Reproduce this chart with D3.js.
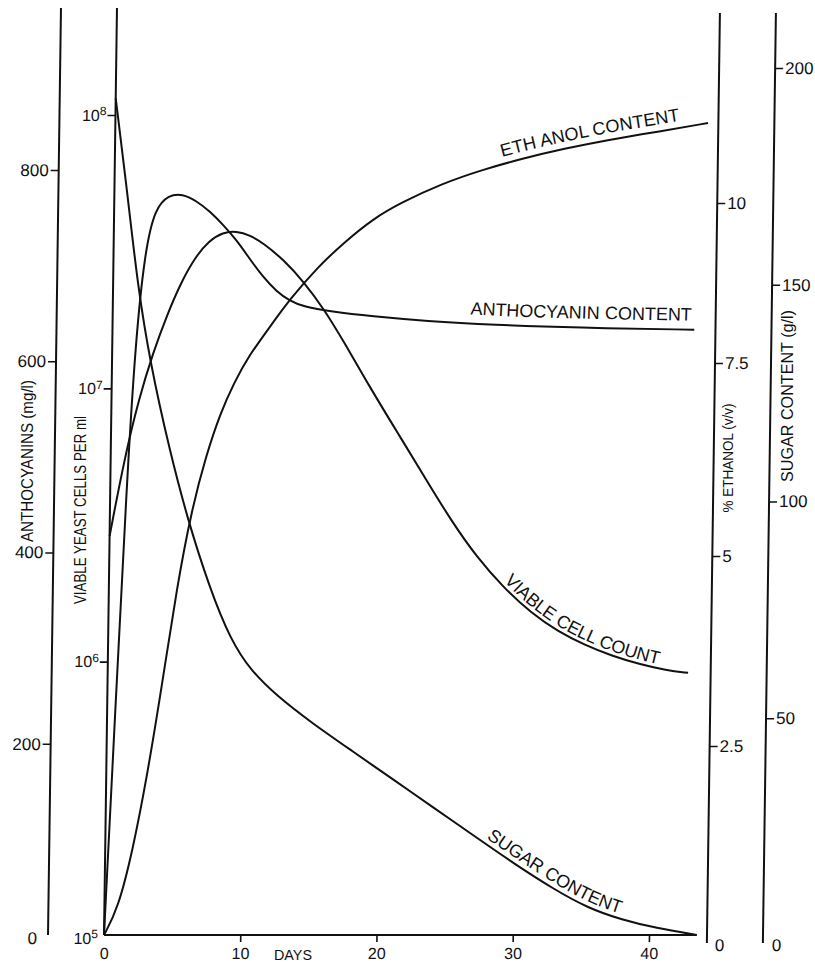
<!DOCTYPE html>
<html>
<head>
<meta charset="utf-8">
<script src="https://cdn.jsdelivr.net/npm/d3@7"></script>
<style>
  body { margin: 0; background: #fff; }
  svg text { font-family: "Liberation Sans", Arial, Helvetica, sans-serif; fill: #111; }
</style>
</head>
<body>
<div id="chart"></div>
<script>
// ---- data ----
var dayTicks = [0, 10, 20, 30, 40];
var anthoTicks = [0, 200, 400, 600, 800];
var cellTicks = [1e5, 1e6, 1e7, 1e8];
var ethanolTicks = [0, 2.5, 5, 7.5, 10];
var sugarTicks = [0, 50, 100, 150, 200];

var sugarDays = [0, 1, 1.8, 2.8, 4.3, 5.7, 7.4, 9, 10.5, 12.5, 15, 18, 21, 24, 27, 30, 33, 35.5, 38, 40.5, 43.5];
var sugarGL   = [193, 170, 150, 132, 112, 96, 80, 68, 61, 55, 49, 42.5, 36, 29.5, 23, 16.5, 10.5, 6.2, 3.5, 1.6, 0];

var ethanolDays = [0, 1, 2, 3, 4, 5, 6, 7, 8, 9, 10, 11.5, 13, 15, 17, 19, 21, 24, 27, 30, 33, 36, 40, 43.5];
var ethanolPct  = [0, 0.35, 1.1, 2.1, 3.3, 4.6, 5.6, 6.3, 6.85, 7.25, 7.6, 8.05, 8.5, 9.0, 9.4, 9.75, 10.0, 10.3, 10.52, 10.7, 10.85, 10.98, 11.12, 11.25];

var anthoDays = [0, 0.6, 1.2, 1.7, 2.3, 3.0, 4.0, 5.0, 6.0, 7.0, 8.0, 9.0, 10, 11, 12, 13, 14, 16, 19, 23, 28, 34, 42.7];
var anthoMgL  = [0, 235, 470, 620, 715, 760, 774, 775, 768, 757, 743, 727, 707, 688, 673, 663, 657, 652, 647, 642, 638, 635, 633];

var cellDays   = [0, 1, 2, 3, 4, 5, 6, 7, 8, 9, 10, 11, 12.5, 14, 15.5, 17, 19, 21, 23, 25, 27, 29, 31, 33, 35, 37, 39, 41, 42.6];
var cellsPerMl = [2.88e6, 5.5e6, 9.12e6, 1.35e7, 1.86e7, 2.45e7, 3.02e7, 3.47e7, 3.72e7, 3.76e7, 3.63e7, 3.39e7, 2.95e7, 2.45e7,
                  1.95e7, 1.48e7, 1.0e7, 6.92e6, 4.79e6, 3.31e6, 2.4e6, 1.86e6, 1.51e6, 1.29e6, 1.15e6, 1.05e6, 9.8e5, 9.3e5, 9.1e5];

// ---- layout ----
var width = 815, height = 964;
var base = 935;          // y of the days axis
var slant = 0.014;       // the scanned figure leans a little to the right

var svg = d3.select("#chart").append("svg")
  .attr("width", width)
  .attr("height", height);

var g = svg.append("g")
  .attr("transform", "translate(0," + base + ") skewX(" + (-Math.atan(slant) * 180 / Math.PI) + ") translate(0," + (-base) + ")");

var x = d3.scaleLinear().domain([0, 40]).range([104, 649]);
var yAntho = d3.scaleLinear().domain([0, 800]).range([base, 170]);
var yCells = d3.scaleLog().domain([1e5, 1e8]).range([base, 115]);
// the ethanol scale of the original is not evenly spaced
var yEthanol = d3.scaleLinear().domain(ethanolTicks).range([base, 746, 556, 363, 203]);
var ySugar = d3.scaleLinear().domain([0, 200]).range([base, 68]);

function styleAxis(sel, size) {
  sel.attr("font-size", size).attr("font-family", null);
  sel.selectAll(".tick line").attr("stroke", "#111").attr("stroke-width", 1.6);
  sel.select(".domain").remove();
}

function axisLine(xPos, y1, y2) {
  g.append("line")
    .attr("x1", xPos).attr("x2", xPos)
    .attr("y1", y1).attr("y2", y2)
    .attr("stroke", "#111").attr("stroke-width", 2);
}

// anthocyanins axis
var anthoAxis = g.append("g").attr("transform", "translate(48,0)")
  .call(d3.axisLeft(yAntho).tickValues(anthoTicks).tickSize(8).tickPadding(2).tickFormat(d3.format("d")));
styleAxis(anthoAxis, 17);
anthoAxis.selectAll(".tick").filter(function(d) { return d === 0; }).select("line").remove();
anthoAxis.selectAll(".tick").filter(function(d) { return d === 0; }).select("text").attr("x", -11).attr("dy", "0.5em");
axisLine(48, base, 8);

// yeast cells axis (log)
var cellAxis = g.append("g").attr("transform", "translate(104,0)")
  .call(d3.axisLeft(yCells).tickValues(cellTicks).tickSize(8).tickPadding(1).tickFormat(""));
styleAxis(cellAxis, 16);
cellAxis.selectAll(".tick").filter(function(d) { return d === 1e5; }).select("line").remove();
cellAxis.selectAll(".tick text").each(function(d) {
  var t = d3.select(this);
  if (d === 1e5) t.attr("x", -6).attr("dy", "0.5em");
  t.append("tspan").text("10");
  t.append("tspan").attr("dy", "-0.45em").attr("font-size", 12).text(Math.round(Math.log10(d)));
});
axisLine(104, base, 8);

// ethanol axis
var ethAxis = g.append("g").attr("transform", "translate(707,0)")
  .call(d3.axisRight(yEthanol).tickValues(ethanolTicks).tickSize(8).tickPadding(2).tickFormat(function(d) { return d; }));
styleAxis(ethAxis, 17);
ethAxis.selectAll(".tick").filter(function(d) { return d === 0; }).select("line").remove();
ethAxis.selectAll(".tick").filter(function(d) { return d === 0; }).select("text").attr("x", 8).attr("dy", "0.9em");
axisLine(707, 943, 13);

// sugar axis
var sugAxis = g.append("g").attr("transform", "translate(763,0)")
  .call(d3.axisRight(ySugar).tickValues(sugarTicks).tickSize(8).tickPadding(2).tickFormat(d3.format("d")));
styleAxis(sugAxis, 17);
sugAxis.selectAll(".tick").filter(function(d) { return d === 0; }).select("line").remove();
sugAxis.selectAll(".tick").filter(function(d) { return d === 0; }).select("text").attr("x", 9).attr("dy", "0.9em");
axisLine(763, 943, 13);

// days axis
var dayAxis = g.append("g").attr("transform", "translate(0," + base + ")")
  .call(d3.axisBottom(x).tickValues(dayTicks).tickSize(7).tickPadding(6).tickFormat(d3.format("d")));
styleAxis(dayAxis, 16);
dayAxis.selectAll(".tick").filter(function(d) { return d === 0; }).select("line").remove();
g.append("line")
  .attr("x1", x(0)).attr("x2", x(43.5))
  .attr("y1", base).attr("y2", base)
  .attr("stroke", "#111").attr("stroke-width", 2);

// ---- curves ----
function drawCurve(id, days, values, yScale) {
  var pts = days.map(function(d, i) { return [d, values[i]]; });
  var line = d3.line()
    .x(function(p) { return x(p[0]); })
    .y(function(p) { return yScale(p[1]); })
    .curve(d3.curveBasis);
  g.append("path")
    .attr("id", id)
    .attr("d", line(pts))
    .attr("fill", "none")
    .attr("stroke", "#111")
    .attr("stroke-width", 2);
}

drawCurve("sugarCurve", sugarDays, sugarGL, ySugar);
drawCurve("ethanolCurve", ethanolDays, ethanolPct, yEthanol);
drawCurve("anthoCurve", anthoDays, anthoMgL, yAntho);
drawCurve("cellCurve", cellDays, cellsPerMl, yCells);

// labels that follow their curve
function offsetAt(id, fromX) {
  var node = document.getElementById(id);
  var lo = 0, hi = node.getTotalLength();
  for (var i = 0; i < 40; i++) {
    var mid = (lo + hi) / 2;
    if (node.getPointAtLength(mid).x < fromX) lo = mid; else hi = mid;
  }
  return lo;
}

function curveLabel(id, parts, fromX, dy) {
  var tp = g.append("text")
    .attr("font-size", 18)
    .attr("dy", dy)
    .append("textPath")
    .attr("href", "#" + id)
    .attr("startOffset", offsetAt(id, fromX));
  parts.forEach(function(p) {
    tp.append("tspan").attr("dx", p[1]).text(p[0]);
  });
}

curveLabel("ethanolCurve", [["ETH", 0], ["ANOL CONTENT", 4]], 493, -7);
curveLabel("anthoCurve", [["ANTHOCYANIN CONTENT", 0]], 461, -9);
curveLabel("cellCurve", [["VIABLE CELL COUNT", 0]], 496, -4);
curveLabel("sugarCurve", [["SUGAR CONTENT", 0]], 482, -5);

// ---- axis titles ----
function sideTitle(str, cx, cy, size, len) {
  svg.append("text")
    .attr("transform", "translate(" + cx + "," + cy + ") rotate(-90)")
    .attr("text-anchor", "middle")
    .attr("font-size", size)
    .attr("textLength", len)
    .attr("lengthAdjust", "spacingAndGlyphs")
    .text(str);
}
sideTitle("ANTHOCYANINS (mg/l)", 33, 461, 16, 162);
sideTitle("VIABLE YEAST CELLS PER ml", 86, 510, 16, 188);
sideTitle("% ETHANOL (v/v)", 733, 458, 15, 109);
sideTitle("SUGAR CONTENT (g/l)", 793, 396, 16, 172);

svg.append("text")
  .attr("x", 293).attr("y", 960)
  .attr("text-anchor", "middle")
  .attr("font-size", 15)
  .attr("textLength", 38)
  .attr("lengthAdjust", "spacingAndGlyphs")
  .text("DAYS");
</script>
</body>
</html>
